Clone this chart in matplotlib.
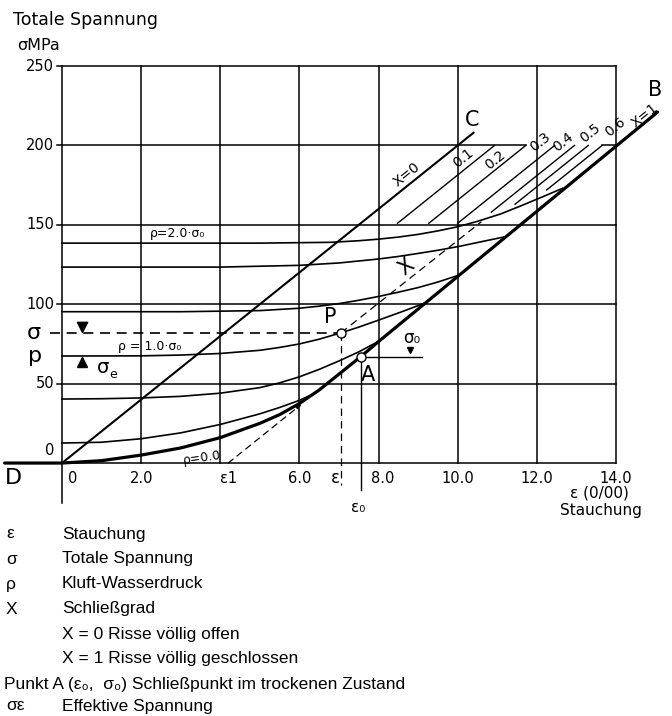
import matplotlib.pyplot as plt

plt.rcParams['font.family'] = ['DejaVu Sans']

# Raster und Beschriftung der Achsen
x_grid = [0, 2, 4, 6, 8, 10, 12, 14]
y_grid = [0, 50, 100, 150, 200, 250]
x_tick_pos = [0.28, 2.0, 4.2, 6.0, 8.1, 10.0, 12.0, 14.0]
x_tick_labels = ["0", "2.0", "ε1", "6.0", "8.0", "10.0", "12.0", "14.0"]
y_tick_pos = [8, 50, 100, 150, 200, 250]
y_tick_labels = ["0", "50", "100", "150", "200", "250"]

# trockene Kurve rho = 0.0 (D - A - B)
dry_x = [-1.45, 0, 1, 2, 3, 4, 5, 5.5, 6, 6.5, 7, 7.55, 8, 10, 12, 14, 15.05]
dry_y = [0, 0, 1.5, 5, 9.5, 16, 25, 30.5, 37.5, 46, 56, 67, 76.5, 117.5, 158.5, 199.5, 221]

# Kurven mit Kluft-Wasserdruck
rho1_x = [0, 1, 2, 3, 4, 5, 5.5, 6, 6.35]
rho1_y = [12.6, 13.1, 15.3, 19, 24.3, 31, 35, 39.5, 43.5]
rho2_x = [0, 1, 2, 3, 4, 5, 5.5, 6, 6.5, 7, 7.5, 7.95]
rho2_y = [40.3, 40.5, 41, 42, 44, 47.5, 50.5, 54.3, 59, 64.3, 70, 76]
rho3_x = [0, 2, 3, 4, 5, 5.5, 6, 6.5, 7.05, 7.5, 8, 8.6, 9.2]
rho3_y = [67.4, 67.5, 68, 69, 71, 72.8, 75, 78, 82, 85.6, 90, 95.4, 101]
rho4_x = [0, 3, 5, 6, 6.5, 7, 7.5, 8, 8.5, 9, 9.5, 10.05]
rho4_y = [95.3, 95.3, 96, 97.5, 98.8, 100.4, 102.5, 104.9, 107.6, 110.5, 114, 118.5]
rho5_x = [0, 4, 6, 7, 8, 8.5, 9, 9.5, 10.05, 10.6, 11.2]
rho5_y = [123.4, 123.4, 124.5, 126, 128.5, 130.1, 132, 134, 136.5, 139.4, 142.5]
rho6_x = [0, 5, 6.8, 7.5, 8, 8.5, 9, 9.5, 10, 10.5, 11.1, 11.6, 12.15, 12.65]
rho6_y = [138.5, 138.5, 139, 140, 141, 142.3, 144, 146.2, 148.8, 152.2, 157, 162, 167.7, 173]

# Linien gleichen Schliessgrades X
x0_line_x = [0, 10.4]
x0_line_y = [0, 208]
closure_labels = ["0.1", "0.2", "0.3", "0.4", "0.5", "0.6"]
closure_top_x = [10.93, 11.72, 12.45, 12.95, 13.3, 13.65]
closure_bottom_y = [151, 151, 151, 158, 163, 172]
closure_label_x = [10.13, 10.94, 12.08, 12.67, 13.34, 13.98]
closure_label_y = [192, 190.8, 202.3, 202.3, 207.6, 211.8]

# Punkte P und A
eps_p, sigma_p = 7.05, 82
eps_0, sigma_0 = 7.55, 67
eps_1 = 4.2
p_level = 67.4

fig = plt.figure(figsize=(6.72, 7.16), dpi=100)
ax = fig.add_axes([0, 0, 1, 1])
ax.set_xlim(-1.567, 15.416)
ax.set_ylim(-159.3, 291.6)
ax.axis('off')

lw_grid = 1.1
for x in x_grid:
    ax.plot([x, x], [0, 250], color='black', lw=lw_grid)
ax.plot([0, 0], [0, -25], color='black', lw=lw_grid)
for y in y_grid:
    if y == 200:
        ax.plot([-0.12, 11.72], [y, y], color='black', lw=lw_grid)
        ax.plot([13.65, 14], [y, y], color='black', lw=lw_grid)
    elif y == 0:
        ax.plot([0, 14], [y, y], color='black', lw=lw_grid)
    else:
        ax.plot([-0.12, 14], [y, y], color='black', lw=lw_grid)

for x, t in zip(x_tick_pos, x_tick_labels):
    ax.text(x, -9.5, t, ha='center', va='center', fontsize=10.5)
for y, t in zip(y_tick_pos, y_tick_labels):
    ax.text(-0.2, y, t, ha='right', va='center', fontsize=10.5)

ax.text(-0.72, sigma_p, "σ", ha='center', va='center', fontsize=16)
ax.text(-0.68, p_level, "p", ha='center', va='center', fontsize=16)
ax.text(-1.24, -9.5, "D", ha='center', va='center', fontsize=16)

fig.text(13 / 672, 1 - 20 / 716, "Totale Spannung", fontsize=12.5, va='center')
fig.text(17 / 672, 1 - 45 / 716, "σMPa", fontsize=11.5, va='center')

# Kurven
ax.plot(dry_x, dry_y, color='black', lw=2.3, solid_capstyle='round')
for cx, cy in [(rho1_x, rho1_y), (rho2_x, rho2_y), (rho3_x, rho3_y),
               (rho4_x, rho4_y), (rho5_x, rho5_y), (rho6_x, rho6_y)]:
    ax.plot(cx, cy, color='black', lw=1.2)

ax.plot(x0_line_x, x0_line_y, color='black', lw=1.5)
for top_x, bot_y in zip(closure_top_x, closure_bottom_y):
    ax.plot([top_x - (200 - bot_y) / 20, top_x], [bot_y, 200], color='black', lw=1.0)
for lab, lx, ly in zip(closure_labels, closure_label_x, closure_label_y):
    ax.text(lx, ly, lab, rotation=38.7, ha='center', va='center', fontsize=10)
ax.text(8.71, 181.4, "X=0", rotation=38.7, ha='center', va='center', fontsize=10)
ax.text(14.73, 219, "X=1", rotation=38.7, ha='center', va='center', fontsize=10)
ax.text(10.36, 216, "C", ha='center', va='center', fontsize=15)
ax.text(14.99, 235, "B", ha='center', va='center', fontsize=15)

# gestrichelte Hilfslinien
ax.plot([-0.3, eps_p], [sigma_p, sigma_p], color='black', lw=1.2, ls=(0, (6, 4)))
ax.plot([eps_p, eps_p], [sigma_p, -14], color='black', lw=0.9, ls=(0, (6, 4)))
ax.plot([eps_p, 10.6], [sigma_p, 152], color='black', lw=0.9, ls=(0, (6, 4)))
ax.annotate("", xy=(6.05, 37), xytext=(eps_1, 0),
            arrowprops=dict(arrowstyle='-|>', color='black', lw=0.9, ls=(0, (5, 4)),
                            mutation_scale=8, shrinkA=0, shrinkB=0))

ax.plot([eps_0, eps_0], [sigma_0, -17], color='black', lw=1.0)
ax.plot([eps_0, 9.1], [sigma_0, sigma_0], color='black', lw=1.0)
ax.plot([8.8], [71], marker='v', color='black', ms=4)

ax.plot([eps_p, eps_0], [sigma_p, sigma_0], ls='none', marker='o', ms=6.5,
        mfc='white', mec='black', mew=1.0)

ax.plot([0.5], [85.5], marker='v', color='black', ms=7)
ax.plot([0.38, 0.62], [88.8, 88.8], color='black', lw=1.0)
ax.plot([0.5], [63.5], marker='^', color='black', ms=7)

ax.text(6.77, 92, "P", ha='center', va='center', fontsize=15)
ax.text(7.73, 55.4, "A", ha='center', va='center', fontsize=15)
ax.text(8.83, 79, "σ₀", ha='center', va='center', fontsize=12)
ax.text(1.05, 60, "σ", ha='center', va='center', fontsize=14)
ax.text(1.3, 56, "e", ha='center', va='center', fontsize=9)
ax.text(8.7, 123.6, "X", rotation=38, ha='center', va='center', fontsize=15)
ax.text(6.9, -9.5, "ε", ha='center', va='center', fontsize=12)
ax.text(7.48, -28, "ε₀", ha='center', va='center', fontsize=11)

ax.text(2.22, 144.8, "ρ=2.0·σ₀", fontsize=9, va='center')
ax.text(1.42, 73.3, "ρ = 1.0·σ₀", fontsize=9, va='center')
ax.text(3.03, 3.5, "ρ=0.0", fontsize=9, va='center', rotation=8)

fig.text(570 / 672, 1 - 493 / 716, "ε (0/00)", fontsize=11, va='center')
fig.text(560 / 672, 1 - 511 / 716, "Stauchung", fontsize=11, va='center')

# Legende unter dem Diagramm
legend_sym = ["ε", "σ", "ρ", "X", "", "", "", "σε"]
legend_txt = ["Stauchung", "Totale Spannung", "Kluft-Wasserdruck", "Schließgrad",
              "X = 0 Risse völlig offen", "X = 1 Risse völlig geschlossen",
              "", "Effektive Spannung"]
legend_y = [534, 559, 584, 609, 634, 659, 684, 706]
for s, t, y in zip(legend_sym, legend_txt, legend_y):
    fig.text(6 / 672, 1 - y / 716, s, fontsize=12.5, va='center', family='Liberation Sans')
    fig.text(62 / 672, 1 - y / 716, t, fontsize=12.5, va='center', family='Liberation Sans')
fig.text(4 / 672, 1 - 684 / 716, "Punkt A (ε₀,  σ₀) Schließpunkt im trockenen Zustand",
         fontsize=12.5, va='center', family='Liberation Sans')

plt.savefig('out.png', dpi=100)
